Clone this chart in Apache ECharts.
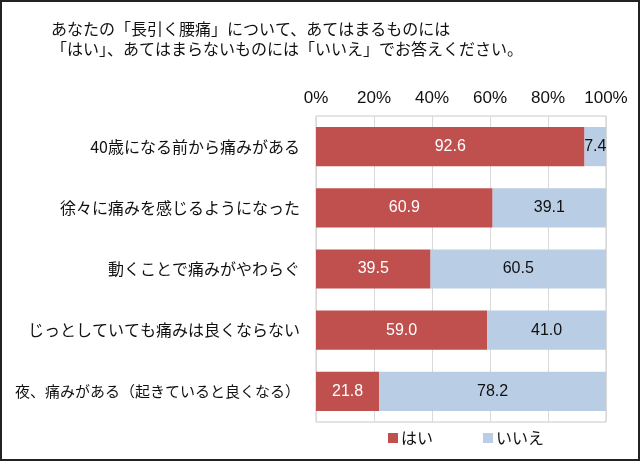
<!DOCTYPE html>
<html>
<head>
<meta charset="utf-8">
<script src="https://cdn.jsdelivr.net/npm/echarts@6/dist/echarts.min.js"></script>
<style>
  html, body { margin: 0; padding: 0; background: #fff; }
  #chart { width: 640px; height: 461px; }
</style>
</head>
<body>
<div id="chart"></div>
<script>
const categories = [
  '40歳になる前から痛みがある',
  '徐々に痛みを感じるようになった',
  '動くことで痛みがやわらぐ',
  'じっとしていても痛みは良くならない',
  '夜、痛みがある（起きていると良くなる）'
];
const yesValues = [92.6, 60.9, 39.5, 59.0, 21.8];
const noValues = [7.4, 39.1, 60.5, 41.0, 78.2];
const titleLines = [
  'あなたの「長引く腰痛」について、あてはまるものには',
  '「はい」、あてはまらないものには「いいえ」でお答えください。'
];

const jpFont = '"Noto Sans CJK JP", sans-serif';
const numFont = '"Liberation Sans", Arial, sans-serif';

// the long last label is set a bit smaller so it fits inside the frame
let categoryData = categories.map((c, i) => ({
  value: c,
  textStyle: { fontSize: i === categories.length - 1 ? 15 : 16 }
}));

let myChart = echarts.init(document.getElementById('chart'));
let option = {
  animation: false,
  title: {
    text: titleLines.join('\n'),
    left: 46,
    top: 14,
    textStyle: {
      fontFamily: jpFont,
      fontSize: 16,
      fontWeight: 'normal',
      color: '#111',
      lineHeight: 20
    }
  },
  graphic: [
    {
      type: 'rect',
      shape: { x: 1, y: 1, width: 638, height: 459 },
      style: { fill: 'none', stroke: '#222', lineWidth: 2 },
      silent: true
    }
  ],
  legend: {
    bottom: 10,
    left: 383,
    itemWidth: 10,
    itemHeight: 10,
    itemGap: 50,
    icon: 'rect',
    textStyle: { fontFamily: jpFont, fontSize: 16, color: '#111', padding: [0, 0, 0, -2] },
    data: ['はい', 'いいえ']
  },
  grid: {
    left: 316,
    right: 34,
    top: 116,
    bottom: 39,
    show: true,
    borderColor: '#c8c8c8',
    borderWidth: 1
  },
  xAxis: {
    type: 'value',
    position: 'top',
    min: 0,
    max: 100,
    interval: 20,
    axisLine: { show: false },
    axisTick: { show: false },
    axisLabel: {
      formatter: '{value}%',
      fontFamily: numFont,
      fontSize: 17,
      color: '#111',
      margin: 9
    },
    splitLine: { lineStyle: { color: '#d9d9d9' } }
  },
  yAxis: {
    type: 'category',
    inverse: true,
    data: categoryData,
    axisLine: { show: false },
    axisTick: { show: false },
    axisLabel: {
      fontFamily: jpFont,
      fontSize: 16,
      color: '#111',
      margin: 16
    }
  },
  series: [
    {
      name: 'はい',
      type: 'bar',
      stack: 'total',
      barWidth: '64%',
      itemStyle: { color: '#c0504d' },
      label: {
        show: true,
        position: 'inside',
        formatter: p => p.value.toFixed(1),
        fontFamily: numFont,
        fontSize: 16,
        color: '#fff'
      },
      data: yesValues
    },
    {
      name: 'いいえ',
      type: 'bar',
      stack: 'total',
      itemStyle: { color: '#b9cde5' },
      label: {
        show: true,
        position: 'inside',
        formatter: p => p.value.toFixed(1),
        fontFamily: numFont,
        fontSize: 16,
        color: '#111'
      },
      data: noValues
    }
  ]
};
myChart.setOption(option);
</script>
</body>
</html>
